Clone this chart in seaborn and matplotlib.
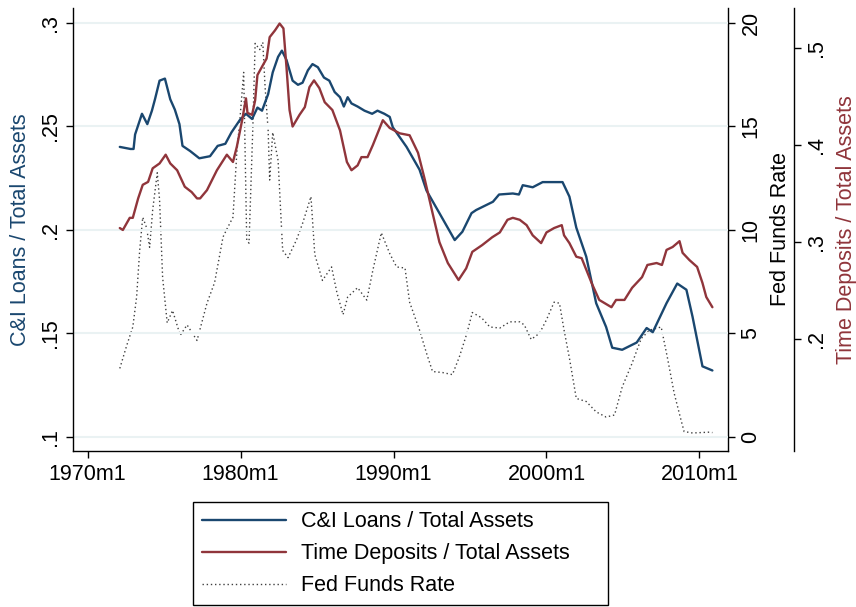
import matplotlib.pyplot as plt
import matplotlib.ticker as mticker
import pandas as pd
import seaborn as sns

# C&I loans / total assets (left axis)
ci_year = [1972.1, 1972.8, 1973.0, 1973.1, 1973.55, 1973.9, 1974.2, 1974.4, 1974.7, 1975.05,
           1975.4, 1975.7, 1976.0, 1976.2, 1976.7, 1977.3, 1978.0, 1978.5, 1979.0, 1979.4,
           1979.95, 1980.35, 1980.75, 1981.1, 1981.4, 1981.8, 1982.1, 1982.45, 1982.7, 1983.0,
           1983.4, 1983.75, 1984.05, 1984.4, 1984.7, 1985.05, 1985.45, 1985.8, 1986.15, 1986.5,
           1986.75, 1987.0, 1987.25, 1987.65, 1988.1, 1988.6, 1988.95, 1989.4, 1989.75, 1989.95,
           1990.85, 1991.7, 1992.15, 1993.0, 1994.0, 1994.5, 1995.1, 1995.4, 1996.5, 1996.9,
           1997.8, 1998.2, 1998.45, 1999.1, 1999.75, 2000.4, 2001.05, 2001.5, 2001.95, 2002.6,
           2003.25, 2003.9, 2004.3, 2004.95, 2005.9, 2006.55, 2006.95, 2007.85, 2008.55, 2009.15,
           2009.55, 2010.2, 2010.85]
ci_share = [0.240, 0.239, 0.239, 0.246, 0.256, 0.251, 0.2575, 0.263, 0.272, 0.273,
            0.263, 0.258, 0.251, 0.2405, 0.238, 0.2345, 0.2355, 0.2405, 0.2415, 0.247,
            0.253, 0.256, 0.2535, 0.259, 0.2575, 0.2655, 0.276, 0.2835, 0.2865, 0.282,
            0.272, 0.270, 0.271, 0.277, 0.280, 0.2785, 0.2735, 0.272, 0.2665, 0.264,
            0.2595, 0.264, 0.261, 0.2595, 0.2575, 0.256, 0.2575, 0.256, 0.2545, 0.2495,
            0.240, 0.229, 0.219, 0.208, 0.195, 0.199, 0.208, 0.2095, 0.2135, 0.217,
            0.2175, 0.217, 0.2215, 0.2205, 0.223, 0.223, 0.223, 0.216, 0.201, 0.187,
            0.1645, 0.153, 0.143, 0.142, 0.1455, 0.1525, 0.1505, 0.1645, 0.174, 0.171,
            0.158, 0.134, 0.132]

# Time deposits / total assets (outer right axis)
td_year = [1972.1, 1972.3, 1972.75, 1972.95, 1973.3, 1973.6, 1973.95, 1974.25, 1974.7, 1975.1,
           1975.4, 1975.85, 1976.35, 1976.8, 1977.15, 1977.35, 1977.8, 1978.45, 1979.1, 1979.5,
           1979.75, 1980.1, 1980.35, 1980.45, 1980.75, 1980.95, 1981.1, 1981.45, 1981.7, 1981.9,
           1982.25, 1982.55, 1982.8, 1983.0, 1983.2, 1983.4, 1983.85, 1984.2, 1984.5, 1984.8,
           1985.15, 1985.5, 1986.0, 1986.5, 1986.95, 1987.25, 1987.65, 1987.9, 1988.3, 1988.65,
           1989.3, 1989.75, 1990.4, 1991.05, 1991.6, 1992.05, 1992.55, 1993.0, 1993.55, 1994.25,
           1994.75, 1995.15, 1995.8, 1996.45, 1996.95, 1997.45, 1997.8, 1998.25, 1998.7, 1999.1,
           1999.65, 2000.0, 2000.5, 2001.0, 2001.15, 2001.5, 2001.95, 2002.3, 2002.95, 2003.45,
           2004.25, 2004.55, 2005.1, 2005.6, 2006.25, 2006.6, 2007.2, 2007.55, 2007.85, 2008.25,
           2008.7, 2008.9, 2009.35, 2009.85, 2010.2, 2010.45, 2010.85]
td_share = [0.3145, 0.3125, 0.325, 0.325, 0.345, 0.359, 0.362, 0.376, 0.381, 0.390,
            0.381, 0.374, 0.357, 0.3515, 0.345, 0.345, 0.3535, 0.374, 0.390, 0.3825,
            0.398, 0.4255, 0.448, 0.433, 0.431, 0.446, 0.472, 0.482, 0.489, 0.511,
            0.518, 0.525, 0.520, 0.480, 0.436, 0.419, 0.431, 0.439, 0.4595, 0.4665,
            0.4585, 0.444, 0.436, 0.415, 0.3825, 0.374, 0.379, 0.3875, 0.3875, 0.400,
            0.4255, 0.4175, 0.412, 0.410, 0.392, 0.364, 0.330, 0.300, 0.2785, 0.261,
            0.273, 0.290, 0.297, 0.305, 0.310, 0.323, 0.325, 0.323, 0.3175, 0.307,
            0.299, 0.310, 0.3145, 0.3175, 0.307, 0.299, 0.285, 0.2835, 0.258, 0.2405,
            0.233, 0.2405, 0.2405, 0.253, 0.264, 0.2765, 0.2785, 0.2765, 0.292, 0.295,
            0.301, 0.289, 0.2815, 0.2745, 0.258, 0.2435, 0.233]

# Fed funds rate (inner right axis)
ff_year = [1972.1, 1972.55, 1972.95, 1973.2, 1973.4, 1973.6, 1973.85, 1974.05, 1974.25, 1974.55,
           1974.7, 1974.9, 1975.2, 1975.55, 1976.05, 1976.5, 1977.15, 1977.8, 1978.3, 1978.85,
           1979.15, 1979.5, 1979.75, 1979.95, 1980.2, 1980.4, 1980.55, 1980.8, 1980.95, 1981.25,
           1981.45, 1981.6, 1981.8, 1981.9, 1982.1, 1982.45, 1982.75, 1983.1, 1983.65, 1984.05,
           1984.6, 1984.85, 1985.35, 1985.95, 1986.3, 1986.7, 1987.0, 1987.65, 1988.25, 1988.65,
           1989.2, 1989.75, 1990.2, 1990.75, 1991.05, 1991.7, 1992.15, 1992.55, 1993.2, 1993.85,
           1994.3, 1994.8, 1995.15, 1995.75, 1996.3, 1996.95, 1997.6, 1998.25, 1998.55, 1999.0,
           1999.55, 2000.0, 2000.5, 2000.85, 2001.15, 2001.5, 2001.95, 2002.6, 2003.25, 2003.9,
           2004.45, 2004.95, 2005.6, 2006.2, 2006.75, 2007.5, 2007.9, 2008.35, 2008.8, 2009.0,
           2009.55, 2010.65, 2010.85]
ff_rate = [3.3, 4.4, 5.3, 6.75, 9.0, 10.6, 10.1, 9.15, 10.95, 12.75,
           11.45, 7.7, 5.5, 6.1, 4.9, 5.4, 4.65, 6.45, 7.45, 9.65,
           10.1, 10.6, 13.7, 15.3, 17.6, 9.5, 9.35, 14.95, 19.0, 18.7,
           19.05, 16.9, 14.8, 12.4, 14.7, 13.35, 9.0, 8.65, 9.5, 10.3,
           11.6, 8.8, 7.55, 8.2, 6.95, 5.9, 6.75, 7.2, 6.6, 8.05,
           9.85, 8.85, 8.2, 8.15, 6.5, 5.15, 4.05, 3.15, 3.1, 3.0,
           3.85, 5.0, 6.0, 5.75, 5.3, 5.25, 5.55, 5.55, 5.4, 4.7,
           5.0, 5.65, 6.5, 6.45, 5.15, 3.8, 1.85, 1.7, 1.2, 0.95,
           1.05, 2.4, 3.55, 4.75, 5.15, 5.3, 3.85, 2.1, 0.8, 0.25,
           0.18, 0.22, 0.2]

x_ticks = [1970, 1980, 1990, 2000, 2010]
x_labels = ["1970m1", "1980m1", "1990m1", "2000m1", "2010m1"]
ci_ticks = [0.1, 0.15, 0.2, 0.25, 0.3]
ci_labels = [".1", ".15", ".2", ".25", ".3"]
ff_ticks = [0, 5, 10, 15, 20]
td_ticks = [0.2, 0.3, 0.4, 0.5]
td_labels = [".2", ".3", ".4", ".5"]

series_names = ["C&I Loans / Total Assets", "Time Deposits / Total Assets", "Fed Funds Rate"]

NAVY = "#1a476f"
MAROON = "#90353b"

sns.set_style("ticks")
plt.rcParams["font.family"] = ["Liberation Sans", "DejaVu Sans"]
plt.rcParams["font.size"] = 15.5
plt.rcParams["text.color"] = "black"
plt.rcParams["axes.labelcolor"] = "black"
plt.rcParams["xtick.color"] = "black"
plt.rcParams["ytick.color"] = "black"

fig = plt.figure(figsize=(8.56, 6.07), dpi=100)
ax = fig.add_axes([73 / 856, 156 / 607, 655 / 856, 443 / 607])
ax_ff = ax.twinx()
ax_td = ax.twinx()
ax_td.spines["right"].set_position(("axes", 721 / 655))

# draw order: dotted rate underneath the two shares
ax_ff.set_zorder(1)
ax.set_zorder(2)
ax_td.set_zorder(3)
ax.patch.set_visible(False)

ci = pd.DataFrame({"year": ci_year, "share": ci_share})
td = pd.DataFrame({"year": td_year, "share": td_share})
ff = pd.DataFrame({"year": ff_year, "rate": ff_rate})

sns.lineplot(data=ff, x="year", y="rate", ax=ax_ff, color="#404040", lw=1.0,
             linestyle=(0, (1, 2)), legend=False)
sns.lineplot(data=ci, x="year", y="share", ax=ax, color=NAVY, lw=1.7, legend=False)
sns.lineplot(data=td, x="year", y="share", ax=ax_td, color=MAROON, lw=1.7, legend=False)

ax.set_xlim(1969.04, 2011.87)
ax.set_ylim(0.0931, 0.3071)
ax_ff.set_ylim(-0.69, 20.71)
ax_td.set_ylim(0.085, 0.541)

ax.set_xticks(x_ticks, x_labels)
ax.set_yticks(ci_ticks, ci_labels)
ax_ff.set_yticks(ff_ticks)
ax_ff.yaxis.set_major_formatter(mticker.FormatStrFormatter("%d"))
ax_td.set_yticks(td_ticks, td_labels)

ax.grid(axis="y", color="#eaf2f3", lw=1.5)
ax.grid(axis="x", visible=False)

for a in (ax, ax_ff, ax_td):
    a.tick_params(length=5, width=1, color="black", labelcolor="black",
                  direction="out", pad=4)
    a.tick_params(axis="y", labelrotation=90)
    for lab in a.get_yticklabels():
        lab.set_va("center")

for s in ("top", "right"):
    ax.spines[s].set_visible(False)
for s in ("top", "left", "bottom"):
    ax_ff.spines[s].set_visible(False)
    ax_td.spines[s].set_visible(False)
for a in (ax, ax_ff, ax_td):
    for s in a.spines.values():
        s.set_color("black")
        s.set_linewidth(1)

ax.set_xlabel("")
ax.set_ylabel(series_names[0], color=NAVY, labelpad=6)
ax_ff.set_ylabel(series_names[2], color="black", labelpad=6)
ax_td.set_ylabel(series_names[1], color=MAROON, labelpad=6)

handles = [ax.lines[0], ax_td.lines[0], ax_ff.lines[0]]
leg = fig.legend(handles, series_names, loc="upper left",
                 bbox_to_anchor=(193 / 856, 1 - 502 / 607, 415 / 856, 0),
                 mode="expand", borderaxespad=0, frameon=True, fancybox=False,
                 edgecolor="black", framealpha=1, handlelength=3.9,
                 handletextpad=0.7, labelspacing=0.52, borderpad=0.42,
                 labelcolor="black")
leg.get_frame().set_linewidth(1)

fig.savefig("out.png", dpi=100)
